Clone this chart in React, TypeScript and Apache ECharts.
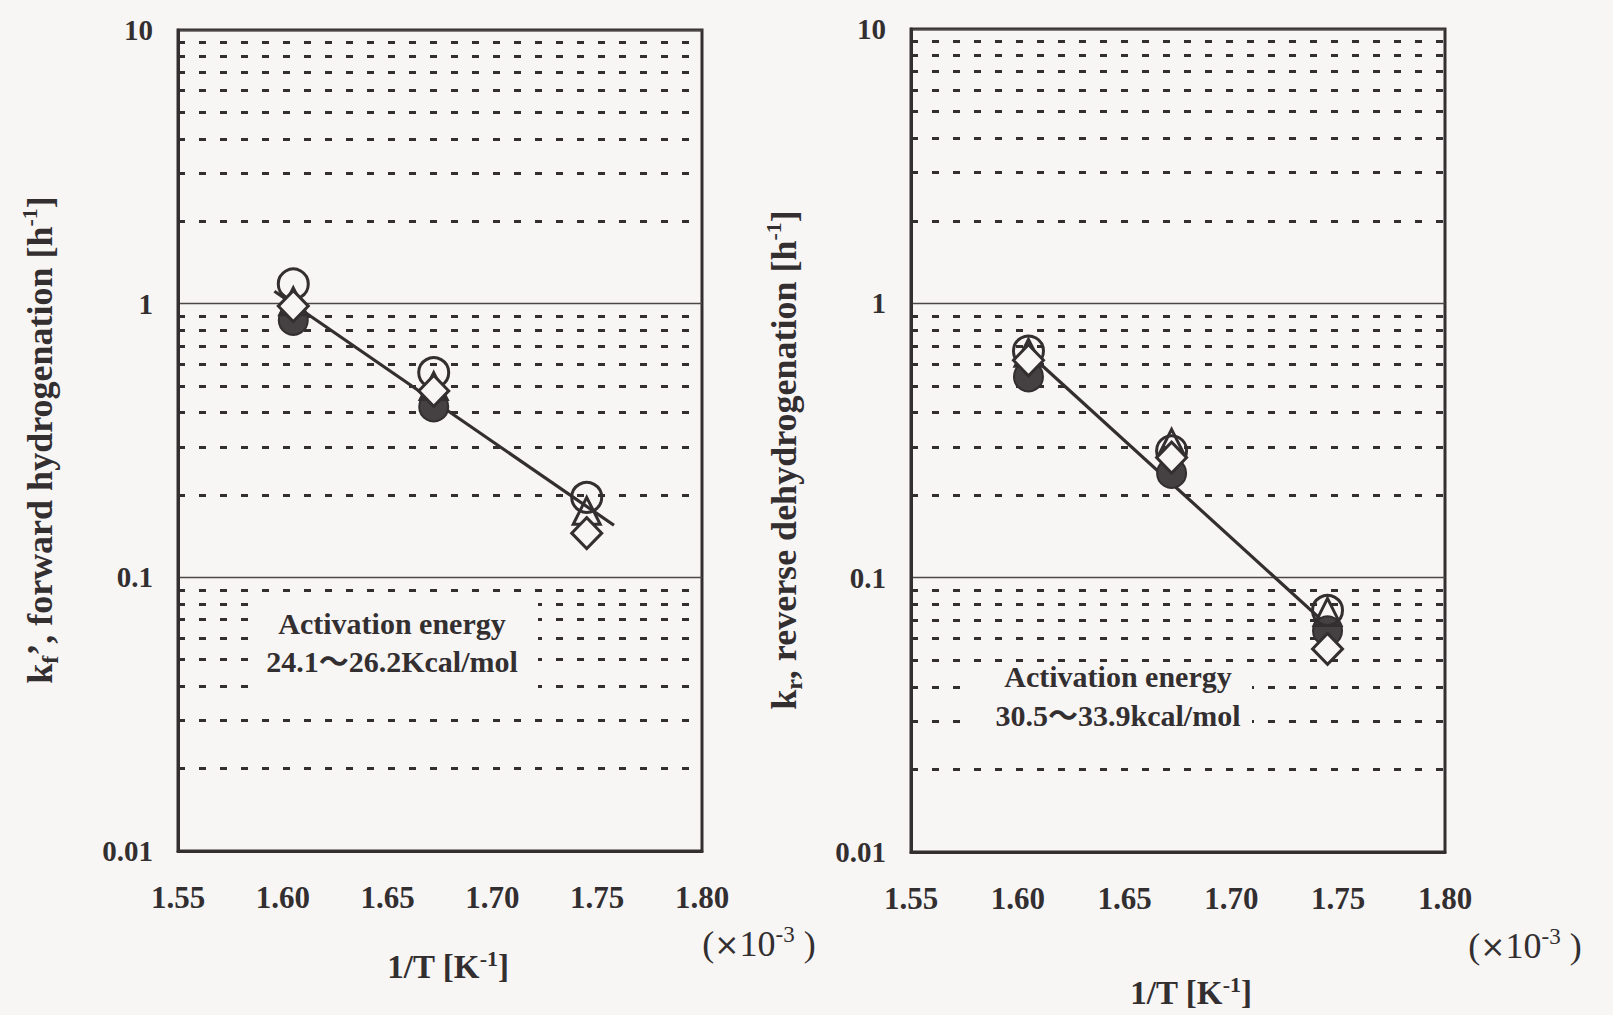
import React, { useEffect, useRef } from "react";
import * as echarts from "echarts";

// 1/T positions (×10^-3 K^-1) of the three run temperatures
const invT = [1.605, 1.672, 1.745];

// axis ticks
const xTickLabels = ["1.55", "1.60", "1.65", "1.70", "1.75", "1.80"];
const yTickLabels = ["0.01", "0.1", "1", "10"];

// dotted minor grid lines of the log axis (2..9 in each decade)
const minorGrid = [
  0.02, 0.03, 0.04, 0.05, 0.06, 0.07, 0.08, 0.09,
  0.2, 0.3, 0.4, 0.5, 0.6, 0.7, 0.8, 0.9,
  2, 3, 4, 5, 6, 7, 8, 9,
];

// forward hydrogenation rate constants kf' [h^-1]
const fwdOpenCircle = [1.18, 0.56, 0.196];
const fwdTriangle = [1.02, 0.5, 0.175];
const fwdFilledCircle = [0.87, 0.42, null];
const fwdDiamond = [0.98, 0.48, 0.145];
const fwdFitX = [1.596, 1.758];
const fwdFitY = [1.11, 0.155];

// reverse dehydrogenation rate constants kr [h^-1]
const revOpenCircle = [0.67, 0.29, 0.076];
const revTriangle = [0.66, 0.31, 0.075];
const revFilledCircle = [0.54, 0.24, 0.064];
const revDiamond = [0.62, 0.274, 0.055];
const revFitX = [1.603, 1.745];
const revFitY = [0.68, 0.067];

const INK = "#332e30";
const BG = "#f7f6f5";
const SERIF = "'Liberation Serif', 'Times New Roman', serif";
const MIXED = "'Liberation Serif', 'Noto Sans CJK JP', serif";

const pts = (ys: (number | null)[]) =>
  invT.map((x, i) => (ys[i] == null ? null : [x, ys[i]])).filter(Boolean);
const fit = (xs: number[], ys: number[]) => xs.map((x, i) => [x, ys[i]]);

function buildSeries(idx: number, open: any[], tri: any[], filled: any[], dia: any[], fx: number[], fy: number[]) {
  const common = { xAxisIndex: idx, yAxisIndex: idx, type: "scatter", silent: true };
  return [
    {
      type: "line",
      xAxisIndex: idx,
      yAxisIndex: idx,
      data: fit(fx, fy),
      symbol: "none",
      lineStyle: { color: INK, width: 3.2 },
      z: 3,
      markLine: {
        silent: true,
        symbol: ["none", "none"],
        label: { show: false },
        lineStyle: { color: INK, width: 3, type: [7, 14], opacity: 1 },
        data: minorGrid.map((v) => ({ yAxis: v })),
        z: 1,
      },
    },
    {
      ...common,
      data: pts(filled),
      symbol: "circle",
      symbolSize: 29,
      itemStyle: { color: "#454041", borderColor: INK, borderWidth: 2, opacity: 1 },
      z: 4,
    },
    {
      ...common,
      data: pts(open),
      symbol: "circle",
      symbolSize: 30,
      itemStyle: { color: "rgba(0,0,0,0)", borderColor: INK, borderWidth: 3, opacity: 1 },
      z: 5,
    },
    {
      ...common,
      data: pts(tri),
      symbol: "triangle",
      symbolSize: [27, 27],
      itemStyle: { color: "rgba(0,0,0,0)", borderColor: INK, borderWidth: 3, opacity: 1 },
      z: 6,
    },
    {
      ...common,
      data: pts(dia),
      symbol: "diamond",
      symbolSize: [30, 31],
      itemStyle: { color: BG, borderColor: INK, borderWidth: 3, opacity: 1 },
      z: 7,
    },
  ];
}

function xAxis(idx: number) {
  return {
    gridIndex: idx,
    type: "value",
    min: 1.55,
    max: 1.8,
    interval: 0.05,
    axisLine: { show: true, lineStyle: { color: INK, width: 3 } },
    axisTick: { show: false },
    splitLine: { show: false },
    axisLabel: {
      color: INK,
      fontFamily: SERIF,
      fontWeight: "bold",
      fontSize: 31,
      margin: 31,
      formatter: (v: number) => xTickLabels[Math.round((v - 1.55) / 0.05)],
    },
  };
}

function yAxis(idx: number) {
  return {
    gridIndex: idx,
    type: "log",
    logBase: 10,
    min: 0.01,
    max: 10,
    axisLine: { show: true, lineStyle: { color: INK, width: 3 } },
    axisTick: { show: false },
    splitLine: { show: true, lineStyle: { color: "#4d4749", width: 1.3 } },
    axisLabel: {
      color: INK,
      fontFamily: SERIF,
      fontWeight: "bold",
      fontSize: 29,
      margin: 25,
      formatter: (v: number) => yTickLabels[Math.round(Math.log10(v)) + 2],
    },
  };
}

const richBase = {
  a: { fill: INK, fontFamily: SERIF, fontWeight: "bold", fontSize: 33, lineHeight: 40 },
  t: { fill: INK, fontFamily: SERIF, fontWeight: "bold", fontSize: 36, lineHeight: 44 },
  s: { fill: INK, fontFamily: SERIF, fontWeight: "bold", fontSize: 24, lineHeight: 24, verticalAlign: "bottom" },
  p: { fill: INK, fontFamily: SERIF, fontWeight: "bold", fontSize: 22, lineHeight: 22, verticalAlign: "top" },
  r: { fill: INK, fontFamily: SERIF, fontSize: 36, lineHeight: 42 },
  x: { fill: INK, fontFamily: "'DejaVu Sans', sans-serif", fontSize: 30, lineHeight: 42 },
  q: { fill: INK, fontFamily: SERIF, fontSize: 23, lineHeight: 23, verticalAlign: "top" },
};

function label(x: number, y: number, text: string, rotation = 0) {
  return {
    type: "text",
    x,
    y,
    rotation,
    z: 20,
    silent: true,
    style: { text, rich: richBase, align: "center", verticalAlign: "middle" },
  };
}

function energyBox(cx: number, rect: number[], y1: number, y2: number, range: string) {
  return {
    type: "group",
    z: 20,
    children: [
      {
        type: "rect",
        z: 20,
        shape: { x: rect[0], y: rect[1], width: rect[2], height: rect[3] },
        style: { fill: BG },
      },
      {
        type: "text",
        z: 21,
        x: cx,
        y: y1,
        style: {
          text: "Activation energy",
          fill: INK,
          font: `bold 30px ${SERIF}`,
          align: "center",
          verticalAlign: "middle",
        },
      },
      {
        type: "text",
        z: 21,
        x: cx,
        y: y2,
        style: {
          text: range,
          fill: INK,
          font: `bold 30px ${MIXED}`,
          align: "center",
          verticalAlign: "middle",
        },
      },
    ],
  };
}

export default function App() {
  const ref = useRef<HTMLDivElement>(null);

  useEffect(() => {
    if (!ref.current) return;
    const chart = echarts.init(ref.current, null, { renderer: "svg" });
    chart.setOption({
      animation: false,
      backgroundColor: BG,
      grid: [
        { left: 178, top: 30, width: 524, height: 821, show: true, borderColor: INK, borderWidth: 3, backgroundColor: "transparent" },
        { left: 911, top: 29, width: 534, height: 823, show: true, borderColor: INK, borderWidth: 3, backgroundColor: "transparent" },
      ],
      xAxis: [xAxis(0), xAxis(1)],
      yAxis: [yAxis(0), yAxis(1)],
      series: [
        ...buildSeries(0, fwdOpenCircle, fwdTriangle, fwdFilledCircle, fwdDiamond, fwdFitX, fwdFitY),
        ...buildSeries(1, revOpenCircle, revTriangle, revFilledCircle, revDiamond, revFitX, revFitY),
      ],
      graphic: [
        energyBox(392, [252, 598, 286, 94], 623, 661, "24.1～26.2Kcal/mol"),
        energyBox(1118, [970, 664, 282, 74], 676, 715, "30.5～33.9kcal/mol"),
        label(40, 440, "{t|k}{s|f}{t|’, forward hydrogenation [h}{p|-1}{t|]}", Math.PI / 2),
        label(784, 460, "{t|k}{s|r}{t|, reverse dehydrogenation [h}{p|-1}{t|]}", Math.PI / 2),
        label(448, 967, "{a|1/T [K}{p|-1}{a|]}"),
        label(1191, 993, "{a|1/T [K}{p|-1}{a|]}"),
        label(759, 944, "{r|(}{x|×}{r|10}{q|-3}{r| )}"),
        label(1525, 946, "{r|(}{x|×}{r|10}{q|-3}{r| )}"),
      ],
    });
    return () => chart.dispose();
  }, []);

  return (
    <div
      ref={ref}
      style={{ position: "absolute", left: 0, top: 0, width: 1613, height: 1015 }}
    />
  );
}
